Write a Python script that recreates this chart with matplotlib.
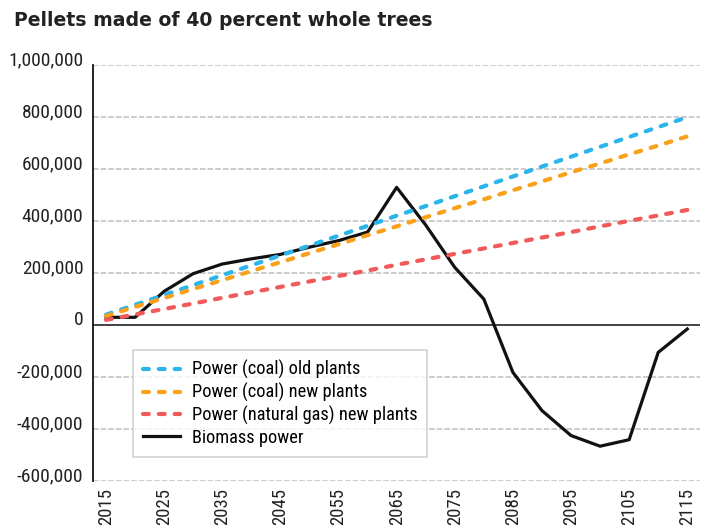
import matplotlib
matplotlib.use("Agg")
import matplotlib.pyplot as plt
import matplotlib.transforms as mtransforms
from matplotlib import font_manager
from matplotlib.ticker import FuncFormatter

years = list(range(2015, 2120, 5))
coal_old = [40, 78, 116, 154, 192, 230, 268, 306, 344, 382, 421,
            458, 496, 534, 572, 610, 648, 686, 724, 762, 800]
coal_new = [35, 70, 104, 139, 173, 208, 242, 277, 311, 346, 380,
            415, 450, 484, 519, 553, 588, 622, 657, 691, 726]
gas_new = [20, 41, 62, 83, 105, 126, 147, 168, 189, 210, 232,
           253, 274, 295, 316, 337, 358, 380, 401, 422, 443]
biomass = [30, 30, 130, 198, 235, 255, 272, 300, 325, 358, 530,
           385, 222, 100, -182, -329, -425, -466, -441, -105, -15]

labels = ["Power (coal) old plants", "Power (coal) new plants",
          "Power (natural gas) new plants", "Biomass power"]
colors = ["#2bb5ea", "#f9a11b", "#f05a5b", "#111111"]
yticks = list(range(-600000, 1000001, 200000))
xticks = list(range(2015, 2116, 10))

names = {f.name for f in font_manager.fontManager.ttflist}
narrow = "DejaVu Sans"
for cand in ["Roboto Condensed", "Liberation Sans Narrow", "Roboto"]:
    if cand in names:
        narrow = cand
        break
plt.rcParams["font.family"] = [narrow, "DejaVu Sans"]
plt.rcParams["lines.scale_dashes"] = False

fig = plt.figure(figsize=(7.1, 5.29), dpi=100)
ax = fig.add_axes([0.131, 0.0907, 0.855, 0.786])

k = 1000
series = [coal_old, coal_new, gas_new]
for vals, lab, col in zip(series, labels[:3], colors[:3]):
    ax.plot(years, [v * k for v in vals], color=col, lw=3, label=lab,
            dashes=(4.2, 7.2), dash_capstyle="round", zorder=4)
ax.plot(years, [v * k for v in biomass], color=colors[3], lw=2.3,
        label=labels[3], zorder=3)

ax.set_xlim(2012.76, 2117.2)
ax.set_ylim(-600000, 1000000)
ax.set_yticks(yticks)
ax.set_xticks(xticks)
ax.yaxis.set_major_formatter(FuncFormatter(lambda v, p: f"{int(v):,}"))
ax.tick_params(axis="both", length=0, colors="#222222")
ax.tick_params(axis="y", pad=7, labelsize=14)
ax.tick_params(axis="x", pad=5, labelrotation=90, labelsize=13.5)

for y in yticks:
    if y == 0:
        ax.axhline(0, color="#222222", lw=1.2, zorder=2)
    else:
        ax.axhline(y, color="#c8c8c8", lw=1.3, dashes=(4, 1.5), zorder=1)

for s in ["top", "right", "bottom"]:
    ax.spines[s].set_visible(False)
ax.spines["left"].set_color("#111111")
ax.spines["left"].set_linewidth(1.3)

off = mtransforms.ScaledTranslation(0, 5 / 72, fig.dpi_scale_trans)
for lbl in ax.get_yticklabels():
    lbl.set_transform(lbl.get_transform() + off)

leg = ax.legend(loc="lower left", bbox_to_anchor=(0.066, 0.058),
                fontsize=13.2, frameon=True, fancybox=False,
                handlelength=2.0, borderpad=0.55, labelspacing=0.2,
                handletextpad=0.65, borderaxespad=0)
leg.get_frame().set_edgecolor("#c8c8c8")
leg.get_frame().set_linewidth(1.2)

fig.text(0.02, 0.98, "Pellets made of 40 percent whole trees",
         fontsize=13.6, fontweight="bold", family=["DejaVu Sans"],
         color="#222222", va="top")

fig.savefig("out.png", dpi=100)
